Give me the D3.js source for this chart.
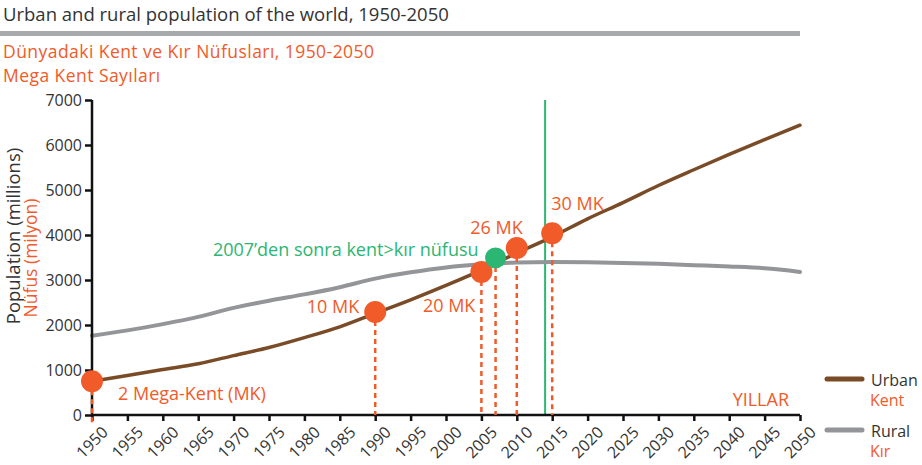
<!DOCTYPE html>
<html>
<head>
<meta charset="utf-8">
<script src="https://cdn.jsdelivr.net/npm/d3@7"></script>
<style>
  body { margin: 0; background: #fff; }
  svg { font-family: "Open Sans", "Noto Sans", sans-serif; }
</style>
</head>
<body>
<div id="chart"></div>
<script>
// data (millions)
const years = [1950, 1955, 1960, 1965, 1970, 1975, 1980, 1985, 1990, 1995, 2000,
               2005, 2010, 2015, 2020, 2025, 2030, 2035, 2040, 2045, 2050];
const urban = [751, 880, 1010, 1140, 1320, 1500, 1720, 1960, 2260, 2560, 2880,
               3220, 3600, 3960, 4360, 4720, 5100, 5450, 5790, 6120, 6440];
const rural = [1760, 1880, 2020, 2180, 2380, 2540, 2680, 2840, 3030, 3170, 3280,
               3350, 3390, 3400, 3395, 3380, 3360, 3330, 3300, 3260, 3180];
const yTicks = [0, 1000, 2000, 3000, 4000, 5000, 6000, 7000];

// mega-city markers
const megaYears = [1950, 1990, 2005, 2010, 2015];
const megaValues = [751, 2290, 3180, 3710, 4040];
const megaLabels = ['2 Mega-Kent (MK)', '10 MK', '20 MK', '26 MK', '30 MK'];
const crossYear = 2007, crossValue = 3490;
const greenLineYear = 2014;

const orange = '#f15a29';
const green = '#2bb673';
const width = 922, height = 465;
const margin = {left: 92, right: 122, top: 100, bottom: 50};

const svg = d3.select('#chart').append('svg')
    .attr('width', width)
    .attr('height', height);

const x = d3.scaleLinear().domain([1950, 2050]).range([margin.left, width - margin.right]);
const y = d3.scaleLinear().domain([0, 7000]).range([height - margin.bottom, margin.top]);

// titles
svg.append('text').attr('x', 3).attr('y', 21)
    .attr('font-size', 18.5).attr('fill', '#333')
    .text('Urban and rural population of the world, 1950-2050');
svg.append('rect').attr('x', 0).attr('y', 31).attr('width', 800).attr('height', 5).attr('fill', '#a7a9ac');
svg.append('text').attr('x', 3).attr('y', 58)
    .attr('font-size', 17.5).attr('letter-spacing', 0.45).attr('fill', orange)
    .text('Dünyadaki Kent ve Kır Nüfusları, 1950-2050');
svg.append('text').attr('x', 3).attr('y', 82)
    .attr('font-size', 17.5).attr('letter-spacing', 0.45).attr('fill', orange)
    .text('Mega Kent Sayıları');

// axis titles
svg.append('text')
    .attr('transform', 'translate(20,236) rotate(-90)')
    .attr('text-anchor', 'middle').attr('font-size', 18.5).attr('fill', '#333')
    .text('Population (millions)');
svg.append('text')
    .attr('transform', 'translate(37,258) rotate(-90)')
    .attr('text-anchor', 'middle').attr('font-size', 17.5).attr('fill', orange)
    .text('Nüfus (milyon)');

// green vertical line
svg.append('line')
    .attr('x1', x(greenLineYear)).attr('x2', x(greenLineYear))
    .attr('y1', y(7000)).attr('y2', y(0))
    .attr('stroke', green).attr('stroke-width', 2);

// lines
const line = d3.line().x((d, i) => x(years[i])).y(d => y(d)).curve(d3.curveMonotoneX);
svg.append('path').datum(rural)
    .attr('d', line).attr('fill', 'none')
    .attr('stroke', '#939598').attr('stroke-width', 4).attr('stroke-linecap', 'round');
svg.append('path').datum(urban)
    .attr('d', line).attr('fill', 'none')
    .attr('stroke', '#7a4b27').attr('stroke-width', 3.5).attr('stroke-linecap', 'round');

// axes
const yAxis = svg.append('g')
    .attr('transform', `translate(${margin.left},0)`)
    .call(d3.axisLeft(y).tickValues(yTicks).tickSize(7).tickPadding(3).tickFormat(d3.format('d')));
const xAxis = svg.append('g')
    .attr('transform', `translate(0,${y(0)})`)
    .call(d3.axisBottom(x).tickValues(years).tickSize(6).tickFormat(d3.format('d')));
[yAxis, xAxis].forEach(g => {
    g.select('.domain').attr('stroke', '#111').attr('stroke-width', 2.5);
    g.selectAll('.tick line').attr('stroke', '#111').attr('stroke-width', 2.5);
    g.selectAll('text').attr('font-size', 16).attr('fill', '#333')
        .attr('font-family', '"Open Sans", sans-serif');
});
yAxis.select('.domain').attr('d', `M0,${y(7000)}V${y(0)}`);
xAxis.select('.domain').attr('d', `M${x(1950)},0H${x(2050)}`);
xAxis.selectAll('.tick text')
    .attr('text-anchor', 'end')
    .attr('dy', 0)
    .attr('transform', 'translate(10,12) rotate(-45)');

// dashed drop lines
svg.selectAll('.drop')
    .data(megaYears.concat([crossYear]))
    .enter().append('line')
    .attr('x1', d => x(d)).attr('x2', d => x(d))
    .attr('y1', (d, i) => y(i < megaValues.length ? megaValues[i] : crossValue))
    .attr('y2', d => d === 1950 ? y(0) + 8 : y(0))
    .attr('stroke', orange).attr('stroke-width', 2.5)
    .attr('stroke-dasharray', '5,4');

// dots
svg.selectAll('.mega')
    .data(megaYears)
    .enter().append('circle')
    .attr('cx', d => x(d)).attr('cy', (d, i) => y(megaValues[i]))
    .attr('r', 11).attr('fill', orange);
svg.append('circle')
    .attr('cx', x(crossYear)).attr('cy', y(crossValue))
    .attr('r', 10.5).attr('fill', green);

// dot labels
const labelPos = [
    {dx: 26, dy: 19, anchor: 'start'},
    {dx: -16, dy: 1, anchor: 'end'},
    {dx: -6, dy: 40, anchor: 'end'},
    {dx: 6, dy: -14, anchor: 'end'},
    {dx: -1, dy: -23, anchor: 'start'}
];
svg.selectAll('.megaLabel')
    .data(megaLabels)
    .enter().append('text')
    .attr('x', (d, i) => x(megaYears[i]) + labelPos[i].dx)
    .attr('y', (d, i) => y(megaValues[i]) + labelPos[i].dy)
    .attr('text-anchor', (d, i) => labelPos[i].anchor)
    .attr('font-size', 18).attr('fill', orange)
    .text(d => d);
svg.append('text')
    .attr('x', x(crossYear) - 17).attr('y', y(crossValue) - 2)
    .attr('text-anchor', 'end').attr('font-size', 18).attr('fill', green)
    .text('2007’den sonra kent>kır nüfusu');

svg.append('text')
    .attr('x', 789).attr('y', 406).attr('text-anchor', 'end')
    .attr('font-size', 18).attr('fill', orange)
    .text('YILLAR');

// legend
const legend = [
    {name: 'Urban', tr: 'Kent', color: '#7a4b27', y: 379},
    {name: 'Rural', tr: 'Kır', color: '#939598', y: 430}
];
legend.forEach(l => {
    svg.append('line').attr('x1', 827).attr('x2', 862)
        .attr('y1', l.y).attr('y2', l.y)
        .attr('stroke', l.color).attr('stroke-width', 5).attr('stroke-linecap', 'round');
    svg.append('text').attr('x', 871).attr('y', l.y + 7)
        .attr('font-size', 16).attr('fill', '#333').text(l.name);
    svg.append('text').attr('x', 870).attr('y', l.y + 27)
        .attr('font-size', 16).attr('fill', orange).text(l.tr);
});
</script>
</body>
</html>
